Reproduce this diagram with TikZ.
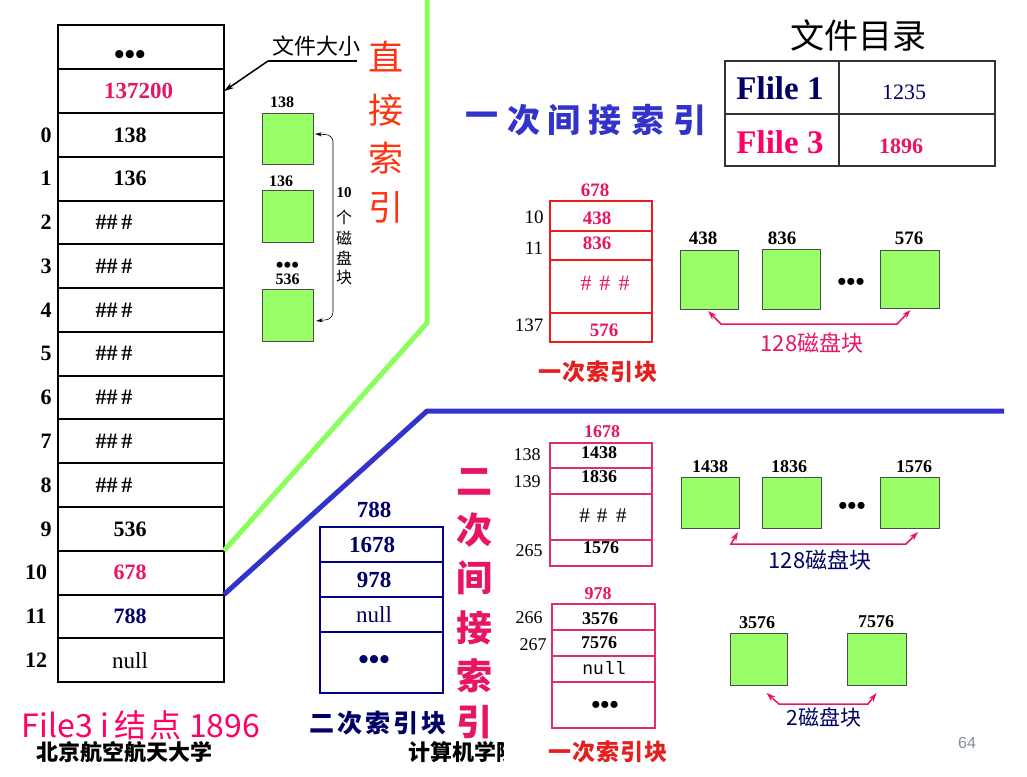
\documentclass[tikz,border=0pt]{standalone}
\usepackage{fontspec}
\setmainfont{Liberation Serif}
\newfontfamily\cjk{Noto Sans CJK SC}
\newfontfamily\lsans{Liberation Sans}
\newfontfamily\lmono{Liberation Mono}
\usetikzlibrary{arrows.meta}
\newcommand{\fsz}[1]{\fontsize{#1}{#1}\selectfont}
\definecolor{mag}{RGB}{232,20,100}
\definecolor{hotpink}{RGB}{255,0,102}
\definecolor{navy}{RGB}{0,0,102}
\definecolor{navyB}{RGB}{0,0,128}
\definecolor{redb}{RGB}{230,30,30}
\definecolor{pinkb}{RGB}{225,45,105}
\definecolor{blueL}{RGB}{51,51,204}
\definecolor{greenF}{RGB}{153,255,102}
\definecolor{orangeR}{RGB}{255,51,17}
\definecolor{grayT}{RGB}{128,144,160}
\begin{document}
\begin{tikzpicture}[x=1pt,y=-1pt,
  cell/.style={draw, line width=2pt, minimum width=166pt, minimum height=43.77pt, inner sep=0pt, outer sep=0pt},
  gbox/.style={draw=black!70, line width=0.8pt, fill=greenF, inner sep=0pt, outer sep=0pt},
  rcell/.style={draw=redb, line width=1.8pt, minimum width=102pt, inner sep=0pt, outer sep=0pt},
  pcell/.style={draw=pinkb, line width=1.8pt, minimum width=102pt, inner sep=0pt, outer sep=0pt},
  ncell/.style={draw=navyB, line width=2pt, minimum width=123pt, minimum height=35pt, inner sep=0pt, outer sep=0pt},
  tcell/.style={draw=black!80, line width=1.2pt, inner sep=0pt, outer sep=0pt},
  idx/.style={font=\bfseries\fsz{22}},
  big/.style={font=\bfseries\fsz{22}},
  num/.style={font=\fsz{18}},
  bnum/.style={font=\bfseries\fsz{18}},
  dots/.style={font=\bfseries\fsz{26}},
  arr/.style={line width=1.5pt, {Stealth[length=9pt,width=6pt]}-{Stealth[length=9pt,width=6pt]}},
  txt/.style={inner sep=0pt}
]
\useasboundingbox (0,0) rectangle (1027,776);
\fill[white] (0,0) rectangle (1027,776);

% ---------------- main i-node table
\foreach \i in {0,...,14}
  \node[cell] (m\i) at (141,{25.5+43.77*(\i+0.5)}) {};
\node[dots, font=\bfseries\fsz{30}] (mt0) at (130,58) {•••};
\node[big, text=mag, font=\bfseries\fsz{23}] (mt1) at (138.5,0 |- m1) {137200};
\node[big] (mt2) at (130,0 |- m2) {138};
\node[big] (mt3) at (130,0 |- m3) {136};
\foreach \i in {4,...,10}
  \node[font=\bfseries\fsz{22}] (mh\i) at (114,0 |- m\i) {\#\#\,\#};
\node[big] (mt11) at (130,0 |- m11) {536};
\node[big, text=mag] (mt12) at (130,0 |- m12) {678};
\node[big, text=navy] (mt13) at (130,0 |- m13) {788};
\node[font=\fsz{23}] (mt14) at (130,0 |- m14) {null};
\foreach \i/\l in {2/0,3/1,4/2,5/3,6/4,7/5,8/6,9/7,10/8,11/9}
  \node[idx] (ix\i) at (46,0 |- m\i) {\l};
\foreach \i/\l in {12/10,13/11,14/12}
  \node[idx] (ix\i) at (36,0 |- m\i) {\l};

% file size label
\node[font=\cjk\fsz{22}] (fsize) at (316,46) {文件大小};
\coordinate (fu1) at (268,61);
\coordinate (fu2) at (357,61);
\draw[line width=1.5pt] (fu1) -- (fu2);
\draw[line width=1.5pt, -{Stealth[length=10pt,width=6pt]}] (fu1) -- (m1.east);

% ---------------- direct blocks
\node[gbox, minimum width=51pt, minimum height=51pt] (d1) at (287.5,138.5) {};
\node[gbox, minimum width=51pt, minimum height=52pt] (d2) at (287.5,216) {};
\node[gbox, minimum width=51pt, minimum height=52pt] (d3) at (287.5,315) {};
\node[font=\bfseries\fsz{16}] (dl1) at (282,102) {138};
\node[font=\bfseries\fsz{16}] (dl2) at (281,181) {136};
\node[font=\bfseries\fsz{16}, align=center, inner sep=0pt, anchor=south] (dl3) at (287.5,285)
  {{\fsz{22}•••}\\[-4pt]536};
\draw[line width=0.6pt, rounded corners=7pt, {Stealth[length=7pt,width=4pt]}-{Stealth[length=7pt,width=4pt]}]
  ([xshift=2pt,yshift=4.5pt]d1.east) -- (333,135) -- (333,319) -- ([xshift=3pt,yshift=-6pt]d3.east);
\node[font=\bfseries\fsz{15}] (tenL) at (344,193) {10};
\foreach \c/\y [count=\k] in {个/217,磁/238,盘/258,块/278}
  \node[font=\cjk\fsz{16}] (tenC\k) at (344,\y) {\c};
\foreach \c/\y [count=\k] in {直/57,接/110,索/158,引/207}
  \node[font=\cjk\fsz{35}, text=orangeR] (zj\k) at (386,\y) {\c};

% ---------------- separating lines
\coordinate (gTop) at (427,-5);
\coordinate (gBend) at (427,323);
\draw[line width=5pt, color=greenF!90!green, line join=round] (m11.south east) -- (gBend) -- (gTop);
\coordinate (bBend) at (427,411);
\coordinate (bEnd) at (1004,411);
\draw[line width=5pt, color=blueL, line join=round] (m12.south east) -- (bBend) -- (bEnd);

% ---------------- directory table
\node[font=\cjk\fsz{34}] (dirT) at (858,35) {文件目录};
\node[tcell, minimum width=114pt, minimum height=53pt] (c11) at (782,87.5) {};
\node[tcell, minimum width=156pt, minimum height=53pt] (c12) at (917,87.5) {};
\node[tcell, minimum width=114pt, minimum height=52pt] (c21) at (782,140) {};
\node[tcell, minimum width=156pt, minimum height=52pt] (c22) at (917,140) {};
\node[font=\bfseries\fsz{33}, text=navy] (fl1) at (780,88) {Flile 1};
\node[font=\fsz{22}, text=navy] (fv1) at (904,92) {1235};
\node[font=\bfseries\fsz{33}, text=hotpink] (fl3) at (780,142) {Flile 3};
\node[font=\bfseries\fsz{22}, text=mag] (fv3) at (901,146) {1896};

% ---------------- single indirect title
\foreach \c/\x [count=\k] in {一/482,次/524,间/564,接/605,索/648,引/690}
  \node[font=\cjk\bfseries\fsz{33}, text=blueL] (yc\k) at (\x,120) {\c};

% ---------------- first-level index block (678)
\node[rcell, minimum height=30pt] (r1) at (601,216) {};
\node[rcell, minimum height=29pt] (r2) at (601,245.5) {};
\node[rcell, minimum height=53pt] (r3) at (601,286.5) {};
\node[rcell, minimum height=29pt] (r4) at (601,327.5) {};
\node[font=\bfseries\fsz{19}, text=mag] (rt1) at (597,218) {438};
\node[font=\bfseries\fsz{19}, text=mag] (rt2) at (597,243) {836};
\node[font=\fsz{22}, text=mag] (rt3) at (605,283) {\#\hspace{8pt}\#\hspace{8pt}\#};
\node[font=\bfseries\fsz{19}, text=mag] (rt4) at (604,330) {576};
\node[font=\bfseries\fsz{19}, text=mag] (rl0) at (595,190) {678};
\node[font=\fsz{19}] (rl1) at (534,217) {10};
\node[font=\fsz{19}] (rl2) at (534,248) {11};
\node[font=\fsz{19}] (rl3) at (529,325) {137};
\node[font=\cjk\bfseries\fsz{23}, text=redb] (rcap) at (598,372) {一\hspace{1pt}次\hspace{1pt}索\hspace{1pt}引\hspace{1pt}块};

\node[gbox, minimum width=58pt, minimum height=59pt] (a1) at (709,279.5) {};
\node[gbox, minimum width=58pt, minimum height=60pt] (a2) at (791,279) {};
\node[gbox, minimum width=59pt, minimum height=58pt] (a3) at (909.5,279) {};
\node[font=\bfseries\fsz{19}] (al1) at (703,238) {438};
\node[font=\bfseries\fsz{19}] (al2) at (782,238) {836};
\node[font=\bfseries\fsz{19}] (al3) at (909,238) {576};
\node[dots] (ad) at (851,284) {•••};
\draw[arr, color=mag] ([xshift=-1pt,yshift=-2pt]a1.south) -- (721,324) -- (897,324) -- ([xshift=1pt,yshift=-2pt]a3.south);
\node[font=\cjk\fsz{22}, text=mag] (acap) at (812,343) {128磁盘块};

% ---------------- second-level index block (788)
\node[ncell] (n1) at (381.5,544.5) {};
\node[ncell] (n2) at (381.5,579.5) {};
\node[ncell] (n3) at (381.5,614.5) {};
\node[ncell, minimum height=61pt] (n4) at (381.5,662.5) {};
\node[font=\bfseries\fsz{23}, text=navy] (nl0) at (374,510) {788};
\node[font=\bfseries\fsz{23}, text=navy] (nt1) at (372,545) {1678};
\node[font=\bfseries\fsz{23}, text=navy] (nt2) at (374,580) {978};
\node[font=\fsz{23}, text=navy] (nt3) at (374,615) {null};
\node[font=\bfseries\fsz{30}, text=navy] (nt4) at (374,662) {•••};
\node[font=\cjk\bfseries\fsz{25}, text=navy] (ncap) at (378,723) {二\hspace{3pt}次\hspace{3pt}索\hspace{3pt}引\hspace{3pt}块};
\foreach \c/\y [count=\k] in {二/482,次/530,间/578,接/628,索/676,引/722}
  \node[font=\cjk\bfseries\fsz{36}, text=mag] (ec\k) at (474,\y) {\c};

% ---------------- block 1678
\node[pcell, minimum height=25pt] (p1) at (601,455.5) {};
\node[pcell, minimum height=26pt] (p2) at (601,481) {};
\node[pcell, minimum height=46pt] (p3) at (601,517) {};
\node[pcell, minimum height=26pt] (p4) at (601,553) {};
\node[font=\bfseries\fsz{18}, text=mag] (pl0) at (602,432) {1678};
\node[bnum] (pt1) at (599,453) {1438};
\node[bnum] (pt2) at (599,477) {1836};
\node[font=\fsz{21}] (pt3) at (603,516) {\#\hspace{7pt}\#\hspace{9pt}\#};
\node[bnum] (pt4) at (601,548) {1576};
\node[num] (pl1) at (527,455) {138};
\node[num] (pl2) at (527,482) {139};
\node[num] (pl3) at (529,551) {265};

\node[gbox, minimum width=58pt, minimum height=51pt] (b1) at (710,502.5) {};
\node[gbox, minimum width=59pt, minimum height=51pt] (b2) at (791.5,502.5) {};
\node[gbox, minimum width=59pt, minimum height=51pt] (b3) at (909.5,502.5) {};
\node[bnum] (bl1) at (710,467) {1438};
\node[bnum] (bl2) at (789,467) {1836};
\node[bnum] (bl3) at (914,467) {1576};
\node[dots] (bd) at (852,508) {•••};
\draw[arr, color=mag] ([xshift=-1pt,yshift=-4pt]b1.south east) -- (731,544) -- (906,544) -- ([xshift=-21pt,yshift=-4pt]b3.south east);
\node[font=\cjk\fsz{22}, text=navy] (bcap) at (820,560) {128磁盘块};

% ---------------- block 978
\node[pcell, minimum width=103pt, minimum height=26pt] (q1) at (603.5,617) {};
\node[pcell, minimum width=103pt, minimum height=26pt] (q2) at (603.5,643) {};
\node[pcell, minimum width=103pt, minimum height=26pt] (q3) at (603.5,669) {};
\node[pcell, minimum width=103pt, minimum height=46pt] (q4) at (603.5,705) {};
\node[font=\bfseries\fsz{18}, text=mag] (ql0) at (598,594) {978};
\node[bnum] (qt1) at (600,619) {3576};
\node[bnum] (qt2) at (599,643) {7576};
\node[font=\lmono\fsz{18}] (qt3) at (604,668) {null};
\node[dots] (qt4) at (605,707) {•••};
\node[num] (ql1) at (529,618) {266};
\node[num] (ql2) at (533,645) {267};
\node[font=\cjk\bfseries\fsz{23}, text=redb] (qcap) at (608,752) {一\hspace{1pt}次\hspace{1pt}索\hspace{1pt}引\hspace{1pt}块};

\node[gbox, minimum width=57pt, minimum height=52pt] (e1) at (758.5,659) {};
\node[gbox, minimum width=59pt, minimum height=52pt] (e2) at (876.5,659) {};
\node[bnum] (el1) at (757,623) {3576};
\node[bnum] (el2) at (876,622) {7576};
\draw[arr, color=mag] ([xshift=8pt,yshift=-8pt]e1.south) -- (779,704) -- (868,704) -- ([yshift=-8pt]e2.south);
\node[font=\cjk\fsz{21}, text=navy] (ecap) at (824,717) {2磁盘块};

% ---------------- footer
\node[font=\cjk\fsz{32}, text=hotpink] (inode) at (141,725) {File3 i\hspace{6pt}结\hspace{3pt}点 1896};
\node[font=\cjk\bfseries\fsz{22}] (bh) at (124,752) {北京航空航天大学};
\begin{scope}
  \clip (395,735) rectangle (503,772);
  \node[font=\cjk\bfseries\fsz{22}, anchor=west] (dept) at (405,752) {计算机学院};
\end{scope}
\node[font=\lsans\fsz{16}, text=grayT] (pg) at (967,743) {64};
\end{tikzpicture}
\end{document}
